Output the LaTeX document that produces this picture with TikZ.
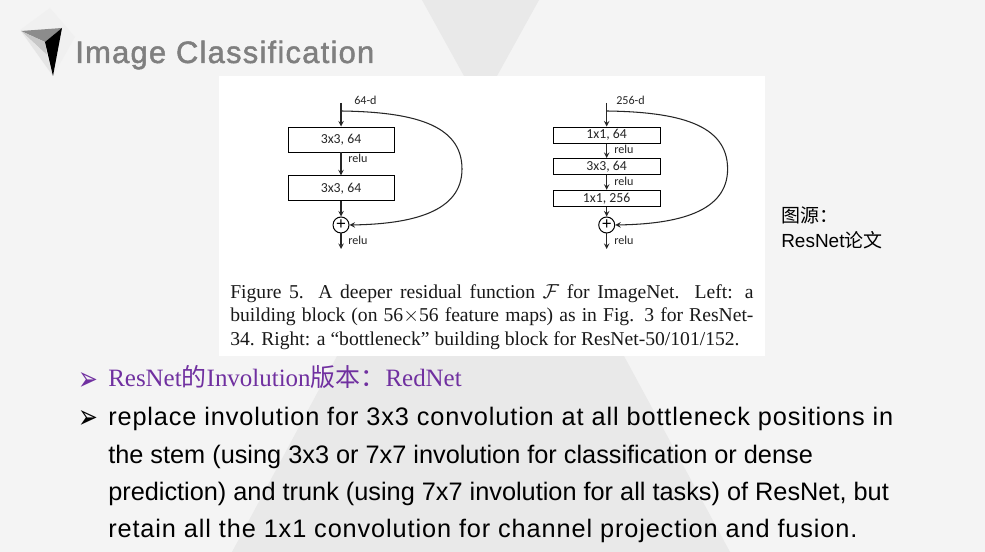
\documentclass[tikz,border=0pt]{standalone}
\usepackage{fontspec}
\setmainfont{Liberation Sans}
\newfontfamily\serifin{Liberation Serif}
\newfontfamily\cjk{Noto Sans CJK SC}
\newfontfamily\figfont{Carlito}
\newfontfamily\symb{DejaVu Sans}
\newfontfamily\titlefont[FakeBold=1.5,LetterSpace=4]{Liberation Sans}
\newfontfamily\bodyfont[LetterSpace=3.5]{Liberation Sans}
\definecolor{slidebg}{HTML}{F4F4F4}
\definecolor{slideshade}{HTML}{E9E9E9}
\definecolor{titlegray}{HTML}{7F7F7F}
\definecolor{rednet}{HTML}{7030A0}
\begin{document}
\begin{tikzpicture}[
  block/.style={draw, line width=0.7pt, fill=white, minimum height=0.625cm, minimum width=2.65cm, inner sep=0pt, font=\figfont\fontsize{9.8}{10}\selectfont, text=black!85},
  thinblock/.style={block, minimum height=0.41cm, minimum width=2.667cm},
  plus/.style={draw, circle, line width=0.7pt, minimum size=0.4cm, inner sep=0pt, font=\fontsize{12}{12}\selectfont},
  lbl/.style={anchor=west, inner sep=0pt, font=\figfont\fontsize{8.6}{9}\selectfont, text=black!85},
  arr/.style={->, >=stealth, line width=0.75pt, black!85},
  body/.style={anchor=base west, inner sep=0pt, font=\fontsize{18}{26.67}\selectfont, align=left, text=black},
  bullet/.style={anchor=base west, inner sep=0pt, font=\symb\fontsize{16}{16}\selectfont}
]
\useasboundingbox (0,0) rectangle (24.625,13.8);
\fill[slidebg] (0,0) rectangle (24.625,13.8);
\fill[slideshade] (10.55,13.8) -- (13.475,13.8) -- (12.425,11.9) -- (11.6,11.9) -- cycle;
\fill[slideshade] (8.425,4.9) -- (15.6,4.9) -- (18.25,0) -- (5.8,0) -- cycle;
\fill[white] (5.475,4.9) rectangle (19.125,11.9);

\fill[black!6] (1.25,13.6) -- (1.875,12.875) -- (1.325,11.9) -- (0.5,13.05) -- cycle;
\fill[black!45] (0.525,13.025) -- (1.55,13.1) -- (1.125,12.75) -- cycle;
\fill[black!22] (0.525,13.025) -- (1.125,12.75) -- (1.175,12.425) -- cycle;
\fill[black!10] (0.525,13.025) -- (1.175,12.425) -- (1.325,11.9) -- cycle;
\fill[black] (1.55,13.1) -- (1.125,12.75) -- (1.325,11.9) -- cycle;

\node[anchor=base west, inner sep=0pt, text=titlegray, font=\titlefont\fontsize{22}{26}\selectfont] (title) at (1.875,12.225) {Image Classification};

\coordinate (ina) at (8.525,11.225);
\coordinate (skipa) at (8.525,11.025);
\node[block] (conva) at (8.525,10.3125) {3x3, 64};
\node[block] (convb) at (8.525,9.09) {3x3, 64};
\node[plus] (plusa) at (8.525,8.175) {+};
\coordinate (outa) at (8.525,7.575);
\node[lbl] (dima) at (8.85,11.3) {64-d};
\node[lbl] (relua) at (8.7,9.85) {relu};
\node[lbl] (relub) at (8.7,7.8) {relu};
\draw[arr] (ina) -- (conva);
\draw[arr] (conva) -- (convb);
\draw[arr] (convb) -- (plusa);
\draw[arr] (plusa) -- (outa);
\draw[arr] (skipa) .. controls (10.3,11.0) and (11.55,10.7) .. (11.55,9.575) .. controls (11.55,8.5) and (10.3,8.2) .. (plusa.east);

\coordinate (inb) at (15.1675,11.225);
\coordinate (skipb) at (15.1675,11.025);
\node[thinblock] (convc) at (15.1675,10.42) {1x1, 64};
\node[thinblock] (convd) at (15.1675,9.6325) {3x3, 64};
\node[thinblock] (conve) at (15.1675,8.8375) {1x1, 256};
\node[plus] (plusb) at (15.1675,8.175) {+};
\coordinate (outb) at (15.1675,7.575);
\node[lbl] (dimb) at (15.4,11.3) {256-d};
\node[lbl] (reluc) at (15.35,10.07) {relu};
\node[lbl] (relud) at (15.35,9.27) {relu};
\node[lbl] (relue) at (15.35,7.8) {relu};
\draw[arr] (inb) -- (convc);
\draw[arr] (convc) -- (convd);
\draw[arr] (convd) -- (conve);
\draw[arr] (conve) -- (plusb);
\draw[arr] (plusb) -- (outb);
\draw[arr] (skipb) .. controls (16.95,11.0) and (18.19,10.7) .. (18.19,9.575) .. controls (18.19,8.5) and (16.95,8.2) .. (plusb.east);

\node[anchor=base west, inner sep=0pt, align=left, text=black!90, font=\serifin\fontsize{13.95}{17.07}\selectfont] (caption) at (5.75,5.15)
  {\makebox[13.08cm][s]{Figure 5. A deeper residual function $\mathcal{F}$ for ImageNet.\ \ Left: a}\\\makebox[13.08cm][s]{building block (on 56$\times$56 feature maps) as in Fig. 3 for ResNet-}\\34. Right: a “bottleneck” building block for ResNet-50/101/152.};

\node[anchor=base west, inner sep=0pt, align=left, font=\fontsize{13.5}{17.3}\selectfont] (source) at (19.525,7.62) {{\cjk 图源：}\\ResNet{\cjk 论文}};

\node[bullet, text=rednet] (bulleta) at (1.95,4.04) {\scalebox{1.05}[1.5]{➢}};
\node[anchor=base west, inner sep=0pt, text=rednet, font=\serifin\fontsize{17.75}{20}\selectfont] (rednetline) at (2.7,4.125) {ResNet{\cjk 的}Involution{\cjk 版本：}RedNet};
\node[bullet] (bulletb) at (1.95,3.09) {\scalebox{1.05}[1.5]{➢}};
\node[body] (bodytext) at (2.7,0.35) {{\bodyfont replace involution for 3x3 convolution at all bottleneck positions in}\\the stem (using 3x3 or 7x7 involution for classification or dense\\prediction) and trunk (using 7x7 involution for all tasks) of ResNet, but\\{\bodyfont retain all the 1x1 convolution for channel projection and fusion.}};
\end{tikzpicture}
\end{document}
